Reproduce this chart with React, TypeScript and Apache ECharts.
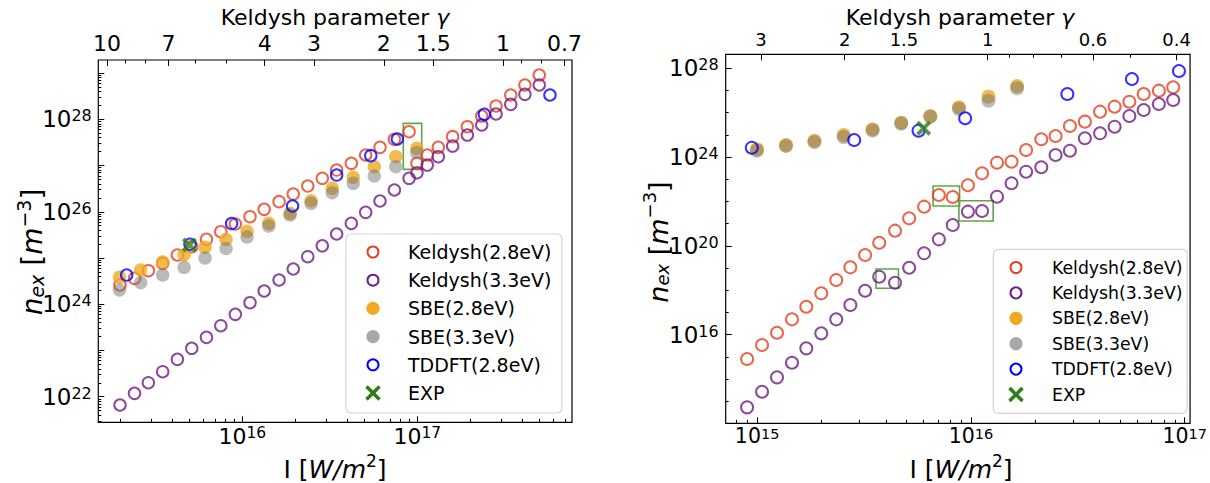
import React, { useEffect, useRef } from "react";
import * as echarts from "echarts";

const FONT = "DejaVu Sans";

// All values are log10 of the physical quantity: I [W/m^2] and n_ex [m^-3]

// ---------------- Left panel ----------------
const leftKeldyshLgI = [15.301, 15.384, 15.463, 15.545, 15.629, 15.711, 15.795, 15.877, 15.96, 16.044, 16.125, 16.21, 16.291, 16.374, 16.457, 16.539, 16.623, 16.705, 16.787, 16.869, 16.953, 16.998, 17.057, 17.12, 17.202, 17.286, 17.368, 17.45, 17.534, 17.615, 17.697];
const leftKeldysh28LgN = [24.416, 24.561, 24.725, 24.885, 25.065, 25.244, 25.404, 25.569, 25.735, 25.893, 26.053, 26.218, 26.384, 26.557, 26.724, 26.903, 27.048, 27.228, 27.394, 27.567, 27.732, 27.048, 27.228, 27.394, 27.624, 27.84, 28.071, 28.288, 28.526, 28.742, 28.958];
const leftKeldysh33LgN = [21.82, 22.073, 22.302, 22.54, 22.809, 23.047, 23.284, 23.535, 23.782, 24.033, 24.286, 24.524, 24.762, 25.028, 25.264, 25.519, 25.75, 25.988, 26.233, 26.471, 26.724, 26.845, 27.011, 27.191, 27.422, 27.66, 27.877, 28.115, 28.324, 28.541, 28.742];
const leftSbeLgI = [15.298, 15.419, 15.545, 15.667, 15.787, 15.907, 16.027, 16.151, 16.273, 16.393, 16.514, 16.634, 16.754, 16.877, 16.997];
const leftSbe28LgN = [24.582, 24.74, 24.913, 25.071, 25.231, 25.404, 25.577, 25.75, 25.967, 26.239, 26.507, 26.745, 26.975, 27.191, 27.373];
const leftSbe33LgN = [24.308, 24.465, 24.632, 24.799, 25.0, 25.205, 25.454, 25.692, 25.93, 26.183, 26.412, 26.616, 26.774, 26.975, 27.278];
const leftTddftLgI = [15.339, 15.701, 15.939, 16.287, 16.539, 16.734, 16.886, 17.383, 17.758];
const leftTddftLgN = [24.632, 25.298, 25.746, 26.125, 26.795, 27.213, 27.574, 28.108, 28.526];
const leftExpLgI = [15.698];
const leftExpLgN = [25.281];
// highlighted boxes: [lgI from, lgN from, lgI to, lgN to]
const leftBoxes = [[16.92, 26.918, 17.025, 27.913]];

// ---------------- Right panel ----------------
const rightKeldyshLgI = [14.953, 15.023, 15.093, 15.163, 15.23, 15.3, 15.37, 15.436, 15.505, 15.571, 15.645, 15.711, 15.781, 15.85, 15.915, 15.986, 16.052, 16.122, 16.19, 16.258, 16.329, 16.396, 16.463, 16.533, 16.604, 16.672, 16.741, 16.808, 16.879, 16.946];
const rightKeldysh28LgN = [14.905, 15.536, 16.09, 16.694, 17.261, 17.865, 18.464, 19.036, 19.59, 20.144, 20.685, 21.243, 21.766, 22.293, 22.203, 22.73, 23.27, 23.748, 23.793, 24.32, 24.802, 24.95, 25.401, 25.595, 26.045, 26.27, 26.495, 26.842, 26.991, 27.144];
const rightKeldysh33LgN = [12.73, 13.432, 14.081, 14.739, 15.387, 16.063, 16.694, 17.338, 17.982, 18.613, 18.342, 19.018, 19.667, 20.297, 20.941, 21.541, 21.572, 22.216, 22.82, 23.342, 23.541, 24.095, 24.288, 24.847, 25.072, 25.369, 25.851, 26.122, 26.392, 26.572];
const rightSbeLgI = [14.999, 15.135, 15.268, 15.405, 15.54, 15.674, 15.81, 15.944, 16.082, 16.216];
const rightSbe28LgN = [24.351, 24.545, 24.739, 24.995, 25.252, 25.55, 25.851, 26.243, 26.721, 27.203];
const rightSbe33LgN = [24.29, 24.5, 24.68, 24.9, 25.2, 25.51, 25.81, 26.17, 26.54, 27.1];
const rightTddftLgI = [14.975, 15.454, 15.755, 15.973, 16.451, 16.753, 16.973];
const rightTddftLgN = [24.423, 24.77, 25.189, 25.748, 26.842, 27.518, 27.878];
const rightExpLgI = [15.779];
const rightExpLgN = [25.297];
const rightBoxes = [
  [15.823, 21.797, 15.947, 22.698],
  [15.944, 21.122, 16.104, 22.036],
  [15.556, 18.09, 15.661, 18.959],
];

// ---------------- Labels / ticks ----------------
const legendLabels = ["Keldysh(2.8eV)", "Keldysh(3.3eV)", "SBE(2.8eV)", "SBE(3.3eV)", "TDDFT(2.8eV)", "EXP"];
const topTitle = "Keldysh parameter ";
const leftXRange = [15.177, 17.884];
const leftYRange = [21.446, 29.283];
const rightXRange = [14.853, 17.025];
const rightYRange = [12.01, 28.63];
const leftXMajor = [16, 17];
const leftYMajorLabels = [22, 24, 26, 28];
const leftYMajorTicks = [22, 23, 24, 25, 26, 27, 28, 29];
const rightXMajor = [15, 16, 17];
const rightYMajor = [16, 20, 24, 28];
const rightYMinor = [13, 14, 15, 17, 18, 19, 21, 22, 23, 25, 26, 27];
const leftGammaMajor = [10, 7, 4, 3, 2, 1.5, 1, 0.7];
const leftGammaMinor = [9, 8, 6, 5, 0.9, 0.8];
const rightGammaMajor = [3, 2, 1.5, 1, 0.6, 0.4];
const rightGammaMinor = [0.9, 0.8, 0.7, 0.5];
// gamma -> lgI : lgI = ref - slope * log10(gamma)
const leftGamma = { ref: 17.49, slope: 2.263 };
const rightGamma = { ref: 16.078, slope: 2.222 };

const C = {
  red: "#e4401f",
  purple: "#721c86",
  orange: "#eeaa22",
  gray: "rgba(115,115,115,0.62)",
  blue: "#0000ff",
  green: "#2e7d16",
  box: "#5ea749",
};

const EXP_PATH =
  "path://M1.8,0 L5,3.2 L8.2,0 L10,1.8 L6.8,5 L10,8.2 L8.2,10 L5,6.8 L1.8,10 L0,8.2 L3.2,5 L0,1.8 Z";

function minorLog(lo: number, hi: number) {
  const out: number[] = [];
  for (let d = Math.floor(lo) - 1; d <= Math.ceil(hi); d++) {
    for (let k = 2; k <= 9; k++) {
      const v = d + Math.log10(k);
      if (v > lo && v < hi) out.push(v);
    }
  }
  return out;
}

function gammaPos(gs: number[], g: { ref: number; slope: number }) {
  return gs.map((v) => g.ref - g.slope * Math.log10(v));
}

function tickRich(fs: number, ss: number) {
  return {
    b: { fontSize: fs, fontFamily: FONT, color: "#000", lineHeight: fs, verticalAlign: "bottom" },
    s: { fontSize: ss, fontFamily: FONT, color: "#000", lineHeight: ss, verticalAlign: "top" },
  };
}

function axis(
  grid: number,
  position: string,
  range: number[],
  ticks: number[],
  tickLen: number,
  label?: any
) {
  return {
    type: "value",
    gridIndex: grid,
    position,
    min: range[0],
    max: range[1],
    axisLine: { show: false },
    splitLine: { show: false },
    splitArea: { show: false },
    axisPointer: { show: false },
    axisTick: {
      show: true,
      inside: true,
      length: tickLen,
      customValues: ticks,
      lineStyle: { color: "#000", width: 1 },
    },
    axisLabel: label
      ? {
          show: true,
          customValues: label.values,
          formatter: label.formatter,
          rich: label.rich,
          margin: label.margin,
          color: "#000",
          fontFamily: FONT,
          fontSize: label.fontSize || 12,
          lineHeight: label.fontSize || undefined,
        }
      : { show: false },
  };
}

const supFmt = (v: number) => `{b|10}{s|${Math.round(v)}}`;
const gammaFmt = (g: { ref: number; slope: number }) => (v: number) =>
  String(Number(Math.pow(10, (g.ref - v) / g.slope).toPrecision(2)));

const pts = (xs: number[], ys: number[]) => xs.map((x, i) => [x, ys[i]]);

function openSeries(name: string, color: string, xs: number[], ys: number[], xi: number, yi: number, size: number) {
  return {
    type: "scatter",
    name,
    xAxisIndex: xi,
    yAxisIndex: yi,
    data: pts(xs, ys),
    symbol: "circle",
    symbolSize: size,
    itemStyle: { color: "rgba(0,0,0,0)", borderColor: color, borderWidth: 2 },
    silent: true,
    clip: false,
  };
}
function filledSeries(name: string, color: string, xs: number[], ys: number[], xi: number, yi: number, size: number) {
  return {
    type: "scatter",
    name,
    xAxisIndex: xi,
    yAxisIndex: yi,
    data: pts(xs, ys),
    symbol: "circle",
    symbolSize: size,
    itemStyle: { color, borderWidth: 0 },
    silent: true,
    clip: false,
  };
}
function expSeries(xs: number[], ys: number[], xi: number, yi: number) {
  return {
    type: "scatter",
    name: "EXP",
    xAxisIndex: xi,
    yAxisIndex: yi,
    data: pts(xs, ys),
    symbol: EXP_PATH,
    symbolSize: 15,
    itemStyle: { color: C.green },
    silent: true,
    clip: false,
  };
}
function boxArea(boxes: number[][]) {
  return {
    silent: true,
    label: { show: false },
    itemStyle: { color: "rgba(0,0,0,0)", borderColor: C.box, borderWidth: 1.6 },
    data: boxes.map((b) => [{ coord: [b[0], b[1]] }, { coord: [b[2], b[3]] }]),
  };
}

function legendElems(
  bx: number, by: number, bw: number, bh: number,
  mx: number, tx: number, ry0: number, step: number, fs: number
) {
  const els: any[] = [
    {
      type: "rect",
      z: 100,
      shape: { x: bx, y: by, width: bw, height: bh, r: 5 },
      style: { fill: "rgba(255,255,255,0.85)", stroke: "#d4d4d4", lineWidth: 1.2 },
    },
  ];
  legendLabels.forEach((lab, i) => {
    const y = ry0 + i * step;
    if (i === 0 || i === 1 || i === 4) {
      const col = i === 0 ? C.red : i === 1 ? C.purple : C.blue;
      els.push({ type: "circle", z: 101, shape: { cx: mx, cy: y, r: 5.5 }, style: { fill: "none", stroke: col, lineWidth: 2 } });
    } else if (i === 2 || i === 3) {
      els.push({ type: "circle", z: 101, shape: { cx: mx, cy: y, r: 6.6 }, style: { fill: i === 2 ? C.orange : C.gray } });
    } else {
      els.push({ type: "line", z: 101, shape: { x1: mx - 6.5, y1: y - 6.5, x2: mx + 6.5, y2: y + 6.5 }, style: { stroke: C.green, lineWidth: 3.6 } });
      els.push({ type: "line", z: 101, shape: { x1: mx - 6.5, y1: y + 6.5, x2: mx + 6.5, y2: y - 6.5 }, style: { stroke: C.green, lineWidth: 3.6 } });
    }
    els.push({
      type: "text",
      z: 101,
      x: tx,
      y,
      style: { text: lab, fontSize: fs, fontFamily: FONT, fill: "#000", align: "left", verticalAlign: "middle", textAlign: "left", textVerticalAlign: "middle" },
    });
  });
  return els;
}

function titleText(x: number, y: number, text: string, rich: any, rotation = 0) {
  return {
    type: "text",
    z: 100,
    x,
    y,
    rotation,
    style: { text, rich, align: "center", verticalAlign: "middle", textAlign: "center", textVerticalAlign: "middle", fill: "#000" },
  };
}

function richSet(fs: number, sub: number, extra: number) {
  return {
    t: { fontSize: fs, fontFamily: FONT, fill: "#000", color: "#000", lineHeight: fs + extra, verticalAlign: "bottom" },
    i: { fontSize: fs, fontFamily: FONT, fontStyle: "italic", fill: "#000", color: "#000", lineHeight: fs + extra, verticalAlign: "bottom" },
    sup: { fontSize: sub, fontFamily: FONT, fill: "#000", color: "#000", lineHeight: sub, verticalAlign: "top" },
    sub: { fontSize: sub, fontFamily: FONT, fontStyle: "italic", fill: "#000", color: "#000", lineHeight: sub, verticalAlign: "bottom" },
  };
}

function buildOption(): any {
  const xTitle = "{t|I [}{i|W/m}{sup|2}{t|]}";
  const yTitle = "{i|n}{sub|ex}{t| [}{i|m}{sup|−3}{t|]}";
  const kTitle = `{t|${topTitle}}{i|γ}`;
  return {
    animation: false,
    backgroundColor: "#fff",
    grid: [
      { left: 98.3, top: 60, width: 473.7, height: 362.3, show: true, borderColor: "#000", borderWidth: 1.2, backgroundColor: "rgba(0,0,0,0)" },
      { left: 725.7, top: 54.3, width: 466.3, height: 369, show: true, borderColor: "#000", borderWidth: 1.2, backgroundColor: "rgba(0,0,0,0)" },
    ],
    xAxis: [
      axis(0, "bottom", leftXRange, leftXMajor, 6, { values: leftXMajor, formatter: supFmt, rich: tickRich(22, 15.5), margin: 3 }),
      axis(0, "bottom", leftXRange, minorLog(leftXRange[0], leftXRange[1]), 3.5),
      axis(0, "top", leftXRange, gammaPos(leftGammaMajor, leftGamma), 6, {
        values: gammaPos(leftGammaMajor, leftGamma),
        formatter: gammaFmt(leftGamma),
        fontSize: 22,
        margin: 6,
      }),
      axis(0, "top", leftXRange, gammaPos(leftGammaMinor, leftGamma), 3.5),
      axis(1, "bottom", rightXRange, rightXMajor, 6, { values: rightXMajor, formatter: supFmt, rich: tickRich(20.5, 14.5), margin: 3 }),
      axis(1, "bottom", rightXRange, minorLog(rightXRange[0], rightXRange[1]), 3.5),
      axis(1, "top", rightXRange, gammaPos(rightGammaMajor, rightGamma), 6, {
        values: gammaPos(rightGammaMajor, rightGamma),
        formatter: gammaFmt(rightGamma),
        fontSize: 18,
        margin: 6,
      }),
      axis(1, "top", rightXRange, gammaPos(rightGammaMinor, rightGamma), 3.5),
    ],
    yAxis: [
      axis(0, "left", leftYRange, leftYMajorTicks, 6, { values: leftYMajorLabels, formatter: supFmt, rich: tickRich(23, 16), margin: 6.5 }),
      axis(0, "left", leftYRange, minorLog(leftYRange[0], leftYRange[1]), 3),
      axis(1, "left", rightYRange, rightYMajor, 6, { values: rightYMajor, formatter: supFmt, rich: tickRich(23, 16), margin: 7 }),
      axis(1, "left", rightYRange, rightYMinor, 3),
    ],
    series: [
      { ...openSeries(legendLabels[0], C.red, leftKeldyshLgI, leftKeldysh28LgN, 0, 0, 11.5), markArea: boxArea(leftBoxes) },
      openSeries(legendLabels[1], C.purple, leftKeldyshLgI, leftKeldysh33LgN, 0, 0, 11.5),
      filledSeries(legendLabels[2], C.orange, leftSbeLgI, leftSbe28LgN, 0, 0, 13.5),
      filledSeries(legendLabels[3], C.gray, leftSbeLgI, leftSbe33LgN, 0, 0, 13.5),
      openSeries(legendLabels[4], C.blue, leftTddftLgI, leftTddftLgN, 0, 0, 11.5),
      expSeries(leftExpLgI, leftExpLgN, 0, 0),

      { ...openSeries(legendLabels[0], C.red, rightKeldyshLgI, rightKeldysh28LgN, 4, 2, 12), markArea: boxArea(rightBoxes) },
      openSeries(legendLabels[1], C.purple, rightKeldyshLgI, rightKeldysh33LgN, 4, 2, 12),
      filledSeries(legendLabels[2], C.orange, rightSbeLgI, rightSbe28LgN, 4, 2, 14),
      filledSeries(legendLabels[3], C.gray, rightSbeLgI, rightSbe33LgN, 4, 2, 14),
      openSeries(legendLabels[4], C.blue, rightTddftLgI, rightTddftLgN, 4, 2, 12),
      expSeries(rightExpLgI, rightExpLgN, 4, 2),
    ],
    graphic: {
      elements: [
        titleText(335, 17, kTitle, richSet(22, 16, 0)),
        titleText(960, 17, kTitle, richSet(22, 16, 0)),
        titleText(335, 467, xTitle, richSet(25, 17, 4)),
        titleText(961, 467, xTitle, richSet(25, 17, 4)),
        titleText(30, 252, yTitle, richSet(28, 19, 4), Math.PI / 2),
        titleText(656, 242, yTitle, richSet(27, 18, 4), Math.PI / 2),
        ...legendElems(346, 234, 216, 179, 373, 408, 252, 28.2, 19),
        ...legendElems(993.3, 249.3, 194, 164, 1016, 1052, 267.5, 25.4, 17.3),
      ],
    },
  };
}

export default function App() {
  const ref = useRef<HTMLDivElement>(null);
  useEffect(() => {
    document.body.style.margin = "0";
    if (!ref.current) return;
    const chart = echarts.init(ref.current, null, { renderer: "svg" });
    chart.setOption(buildOption());
    return () => chart.dispose();
  }, []);
  return <div ref={ref} style={{ width: 1210, height: 483 }} />;
}
